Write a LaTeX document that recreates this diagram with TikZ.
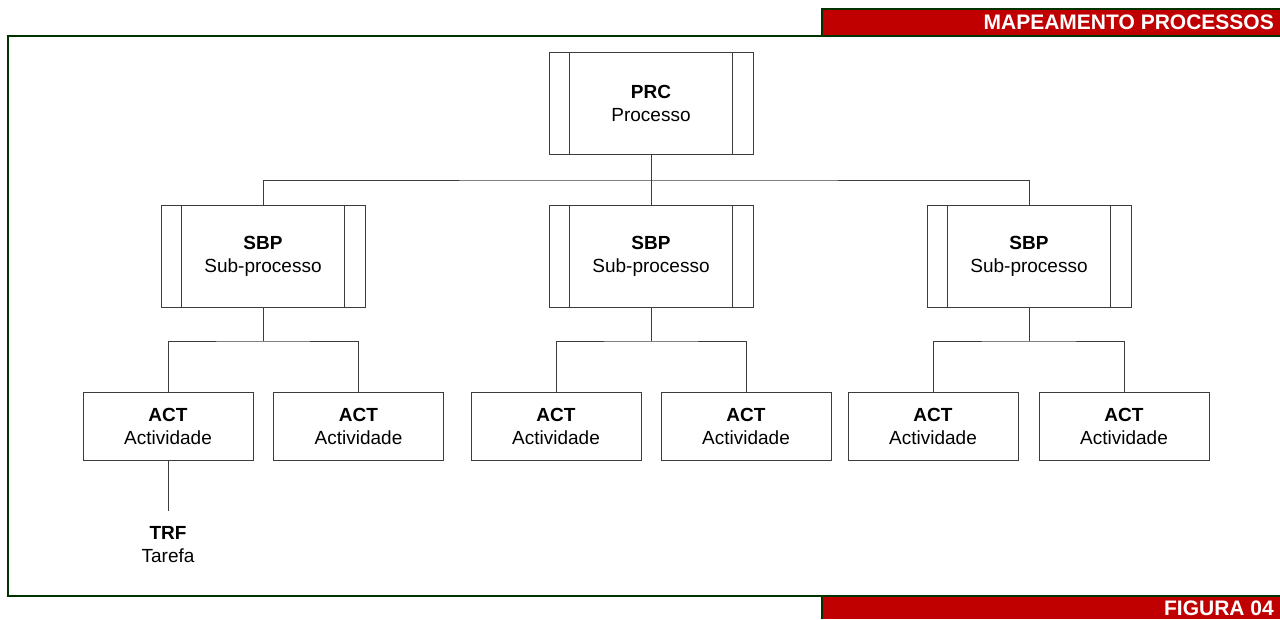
\documentclass[tikz,border=0pt]{standalone}
\usepackage{fontspec}
\setmainfont{Liberation Sans}
\definecolor{framegreen}{HTML}{003300}
\definecolor{bannerred}{HTML}{C00000}
\definecolor{linegray}{HTML}{3C3C3C}
\tikzset{
  frameline/.style={draw=framegreen, line width=2pt},
  bannertext/.style={anchor=east, text=white, font=\fontsize{21}{24}\selectfont\bfseries, inner sep=0pt},
  box/.style={draw=linegray, line width=1pt, fill=white, align=center,
              font=\fontsize{19}{23}\selectfont, inner sep=0pt},
  procbox/.style={box, minimum width=204pt, minimum height=102pt},
  actbox/.style={box, minimum width=170pt, minimum height=68pt},
  conn/.style={draw=linegray, line width=1pt},
}
\begin{document}
\begin{tikzpicture}[x=1pt, y=-1pt]
\useasboundingbox (0,0) rectangle (1280,619);

% outer frame
\draw[frameline] (1280,36) -- (8,36) -- (8,596) -- (1280,596);

% header and footer banners
\fill[bannerred] (822,9) rectangle (1280,35);
\draw[frameline] (1280,9) -- (822,9) -- (822,36);
\node[bannertext] (head) at (1274,22) {MAPEAMENTO PROCESSOS};
\fill[bannerred] (822,597) rectangle (1280,619);
\draw[frameline] (822,596) -- (822,619);
\node[bannertext] (foot) at (1274,608) {FIGURA 04};

% process level
\node[procbox] (prc) at (651,103) {\textbf{PRC}\\Processo};

% sub-process level
\node[procbox] (sbpA) at (263,256) {\textbf{SBP}\\Sub-processo};
\node[procbox] (sbpB) at (651,256) {\textbf{SBP}\\Sub-processo};
\node[procbox] (sbpC) at (1029,256) {\textbf{SBP}\\Sub-processo};

% double side bars of the process boxes
\foreach \n in {prc,sbpA,sbpB,sbpC}{
  \draw[conn] ([xshift=21pt]\n.north west) -- ([xshift=21pt]\n.south west);
  \draw[conn] ([xshift=-21pt]\n.north east) -- ([xshift=-21pt]\n.south east);
}

% activity level
\node[actbox] (a1) at (168,426) {\textbf{ACT}\\Actividade};
\node[actbox] (a2) at (358.5,426) {\textbf{ACT}\\Actividade};
\node[actbox] (a3) at (556,426) {\textbf{ACT}\\Actividade};
\node[actbox] (a4) at (746,426) {\textbf{ACT}\\Actividade};
\node[actbox] (a5) at (933,426) {\textbf{ACT}\\Actividade};
\node[actbox] (a6) at (1124,426) {\textbf{ACT}\\Actividade};

% task
\node[align=center, font=\fontsize{19}{23}\selectfont, inner sep=0pt] (trf) at (168,545) {\textbf{TRF}\\Tarefa};
\coordinate (trfTop) at (168,511);

% connectors
\draw[conn] (prc.south) -- (651,180);
\draw[conn] (sbpA.north) |- (651,180) -| (sbpC.north);
\draw[conn] (651,180) -- (sbpB.north);

\draw[conn] (sbpA.south) -- (263,341);
\draw[conn] (a1.north) |- (263,341) -| (a2.north);
\draw[conn] (sbpB.south) -- (651,341);
\draw[conn] (a3.north) |- (651,341) -| (a4.north);
\draw[conn] (sbpC.south) -- (1029,341);
\draw[conn] (a5.north) |- (1029,341) -| (a6.north);

\draw[conn] (a1.south) -- (trfTop);
\end{tikzpicture}
\end{document}
